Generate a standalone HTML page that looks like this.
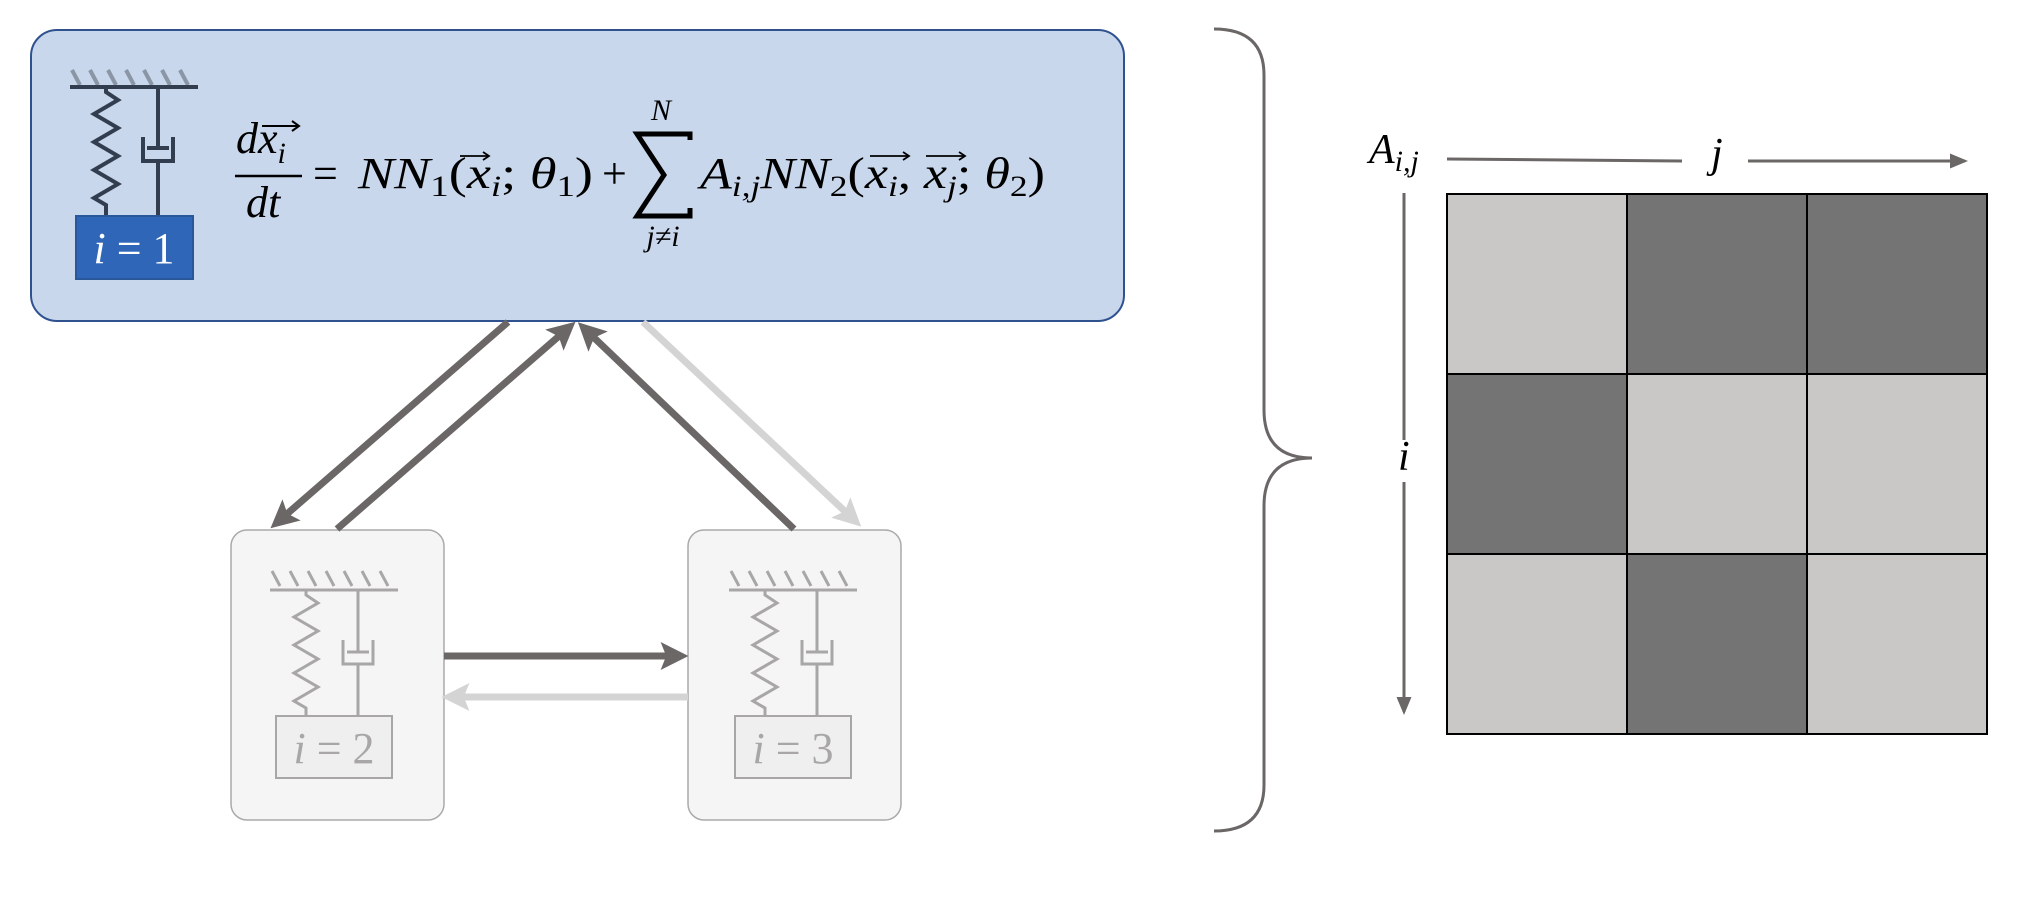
<!DOCTYPE html>
<html><head><meta charset="utf-8"><style>
html,body{margin:0;padding:0;background:#fff;}
svg{display:block;}
.m{font-family:"Liberation Serif",serif;font-style:italic;}
.r{font-family:"Liberation Serif",serif;font-style:normal;}
</style></head><body>
<svg width="2044" height="908" viewBox="0 0 2044 908" xmlns="http://www.w3.org/2000/svg">
<defs>
<marker id="ad" markerWidth="4" markerHeight="4" refX="2.2" refY="2" orient="auto" markerUnits="strokeWidth"><path d="M0,0 L4,2 L0,4 L0.8,2 z" fill="#6b6766"/></marker>
<marker id="al" markerWidth="4" markerHeight="4" refX="2.2" refY="2" orient="auto" markerUnits="strokeWidth"><path d="M0,0 L4,2 L0,4 L0.8,2 z" fill="#d4d4d4"/></marker>
<marker id="as" markerWidth="6" markerHeight="6" refX="5" refY="2.5" orient="auto" markerUnits="strokeWidth"><path d="M0,0 L6,2.5 L0,5 z" fill="#6b6766"/></marker>
</defs>

<!-- main box -->
<rect x="31" y="30" width="1093" height="291" rx="26" fill="#c8d7ec" stroke="#2f528f" stroke-width="2"/>
<!-- spring-damper 1 -->
<g stroke="#323e50" stroke-width="4" fill="none">
<g stroke="#8a95a5" stroke-width="4">
<line x1="72" y1="70" x2="80" y2="85"/><line x1="90" y1="70" x2="98" y2="85"/><line x1="108" y1="70" x2="116" y2="85"/><line x1="126" y1="70" x2="134" y2="85"/><line x1="144" y1="70" x2="152" y2="85"/><line x1="162" y1="70" x2="170" y2="85"/><line x1="180" y1="70" x2="188" y2="85"/>
</g>
<line x1="70" y1="87" x2="198" y2="87"/>
<path d="M106,87 L106,92 L118,100 L94,114 L118,128 L94,142 L118,156 L94,170 L118,184 L94,198 L106,205 L106,216"/>
<line x1="158" y1="87" x2="158" y2="148"/>
<path d="M143,137 L143,161 L173,161 L173,137"/>
<line x1="147" y1="148" x2="169" y2="148"/>
<line x1="158" y1="161" x2="158" y2="216"/>
</g>
<rect x="76" y="216" width="117" height="63" fill="#2f66b8" stroke="#2a579a" stroke-width="2"/>
<text x="134" y="263" text-anchor="middle" class="r" font-size="44" fill="#fff"><tspan class="m">i</tspan> = 1</text>

<!-- equation -->
<g fill="#000">
<text x="236" y="153" class="m" font-size="44">dx<tspan font-size="30" dy="10">i</tspan></text>
<line x1="262" y1="126" x2="298" y2="126" stroke="#000" stroke-width="2"/>
<path d="M292,121 L299,126 L292,131" stroke="#000" stroke-width="2" fill="none"/>
<line x1="235" y1="176" x2="302" y2="176" stroke="#000" stroke-width="2.5"/>
<text x="246" y="217" class="m" font-size="44">dt</text>
<text x="313" y="188" class="r" font-size="44">=</text>
<text x="358" y="188" class="m" font-size="44" textLength="235" lengthAdjust="spacingAndGlyphs">NN<tspan class="r" font-size="30" dy="8">1</tspan><tspan class="r" dy="-8">(</tspan>x<tspan font-size="30" dy="8">i</tspan><tspan class="r" dy="-8">;</tspan> θ<tspan class="r" font-size="30" dy="8">1</tspan><tspan class="r" dy="-8">)</tspan></text>
<text x="602" y="188" class="r" font-size="44">+</text>
<path d="M690,140 L690,134 L637,134 L664,175 L637,216 L690,216 L690,208" stroke="#000" stroke-width="5" fill="none" stroke-linejoin="miter"/>
<text x="661" y="120" class="m" font-size="30" text-anchor="middle">N</text>
<text x="663" y="246" class="m" font-size="30" text-anchor="middle">j≠i</text>
<text x="700" y="188" class="m" font-size="44" textLength="345" lengthAdjust="spacingAndGlyphs">A<tspan font-size="30" dy="8">i,j</tspan><tspan dy="-8">NN</tspan><tspan class="r" font-size="30" dy="8">2</tspan><tspan class="r" dy="-8">(</tspan>x<tspan font-size="30" dy="8">i</tspan><tspan class="r" dy="-8">,</tspan> x<tspan font-size="30" dy="8">j</tspan><tspan class="r" dy="-8">;</tspan> θ<tspan class="r" font-size="30" dy="8">2</tspan><tspan class="r" dy="-8">)</tspan></text>
<g stroke="#000" stroke-width="1.8" fill="none">
<line x1="460" y1="156" x2="488" y2="156"/><path d="M483,152 L489,156 L483,160"/>
<line x1="870" y1="156" x2="908" y2="156"/><path d="M903,152 L909,156 L903,160"/>
<line x1="926" y1="156" x2="964" y2="156"/><path d="M959,152 L965,156 L959,160"/>
</g>
</g>

<!-- lower boxes -->
<rect x="231" y="530" width="213" height="290" rx="16" fill="#f5f5f5" stroke="#aaa" stroke-width="1.5"/>
<rect x="688" y="530" width="213" height="290" rx="16" fill="#f5f5f5" stroke="#aaa" stroke-width="1.5"/>
<g stroke="#a8a6a6" stroke-width="3" fill="none">
<g id="sd">
<line x1="272" y1="571" x2="280" y2="586"/><line x1="290" y1="571" x2="298" y2="586"/><line x1="308" y1="571" x2="316" y2="586"/><line x1="326" y1="571" x2="334" y2="586"/><line x1="344" y1="571" x2="352" y2="586"/><line x1="362" y1="571" x2="370" y2="586"/><line x1="380" y1="571" x2="388" y2="586"/>
<line x1="270" y1="590" x2="398" y2="590"/>
<path d="M306,590 L306,595 L318,603 L294,617 L318,631 L294,645 L318,659 L294,673 L318,687 L294,701 L306,708 L306,716"/>
<line x1="358" y1="590" x2="358" y2="652"/>
<path d="M343,640 L343,664 L373,664 L373,640"/>
<line x1="347" y1="652" x2="369" y2="652"/>
<line x1="358" y1="664" x2="358" y2="716"/>
</g>
<use href="#sd" transform="translate(459,0)"/>
</g>
<rect x="276" y="716" width="116" height="62" fill="#efefef" stroke="#a8a6a6" stroke-width="2"/>
<rect x="735" y="716" width="116" height="62" fill="#efefef" stroke="#a8a6a6" stroke-width="2"/>
<text x="334" y="763" text-anchor="middle" class="r" font-size="44" fill="#a8a6a6"><tspan class="m">i</tspan> = 2</text>
<text x="793" y="763" text-anchor="middle" class="r" font-size="44" fill="#a8a6a6"><tspan class="m">i</tspan> = 3</text>

<!-- arrows -->
<g stroke-width="7" fill="none">
<line x1="508" y1="322" x2="280" y2="520" stroke="#6b6766" marker-end="url(#ad)"/>
<line x1="337" y1="529" x2="566" y2="330" stroke="#6b6766" marker-end="url(#ad)"/>
<line x1="794" y1="529" x2="587" y2="331" stroke="#6b6766" marker-end="url(#ad)"/>
<line x1="643" y1="322" x2="852" y2="518" stroke="#d4d4d4" marker-end="url(#al)"/>
<line x1="444" y1="656" x2="676" y2="656" stroke="#6b6766" marker-end="url(#ad)"/>
<line x1="688" y1="697" x2="454" y2="697" stroke="#d4d4d4" marker-end="url(#al)"/>
</g>

<!-- brace -->
<path d="M1214,29 Q1264,29 1264,75 L1264,410 Q1264,458 1312,458 Q1264,458 1264,506 L1264,785 Q1264,831 1214,831" stroke="#6b6766" stroke-width="3" fill="none"/>

<!-- matrix -->
<g stroke="#000" stroke-width="2">
<rect x="1447" y="194" width="180" height="180" fill="#c9c8c6"/>
<rect x="1627" y="194" width="180" height="180" fill="#747474"/>
<rect x="1807" y="194" width="180" height="180" fill="#747474"/>
<rect x="1447" y="374" width="180" height="180" fill="#747474"/>
<rect x="1627" y="374" width="180" height="180" fill="#c9c8c6"/>
<rect x="1807" y="374" width="180" height="180" fill="#c9c8c6"/>
<rect x="1447" y="554" width="180" height="180" fill="#c9c8c6"/>
<rect x="1627" y="554" width="180" height="180" fill="#747474"/>
<rect x="1807" y="554" width="180" height="180" fill="#c9c8c6"/>
</g>
<text x="1369" y="163" class="m" font-size="42">A<tspan font-size="30" dy="8">i,j</tspan></text>
<text x="1711" y="167" class="m" font-size="42">j</text>
<text x="1398" y="470" class="m" font-size="42">i</text>
<g stroke="#6b6766" stroke-width="3">
<line x1="1447" y1="159" x2="1682" y2="161"/>
<line x1="1748" y1="161" x2="1965" y2="161" marker-end="url(#as)"/>
<line x1="1404" y1="193" x2="1404" y2="440"/>
<line x1="1404" y1="482" x2="1404" y2="712" marker-end="url(#as)"/>
</g>
</svg>
</body></html>
